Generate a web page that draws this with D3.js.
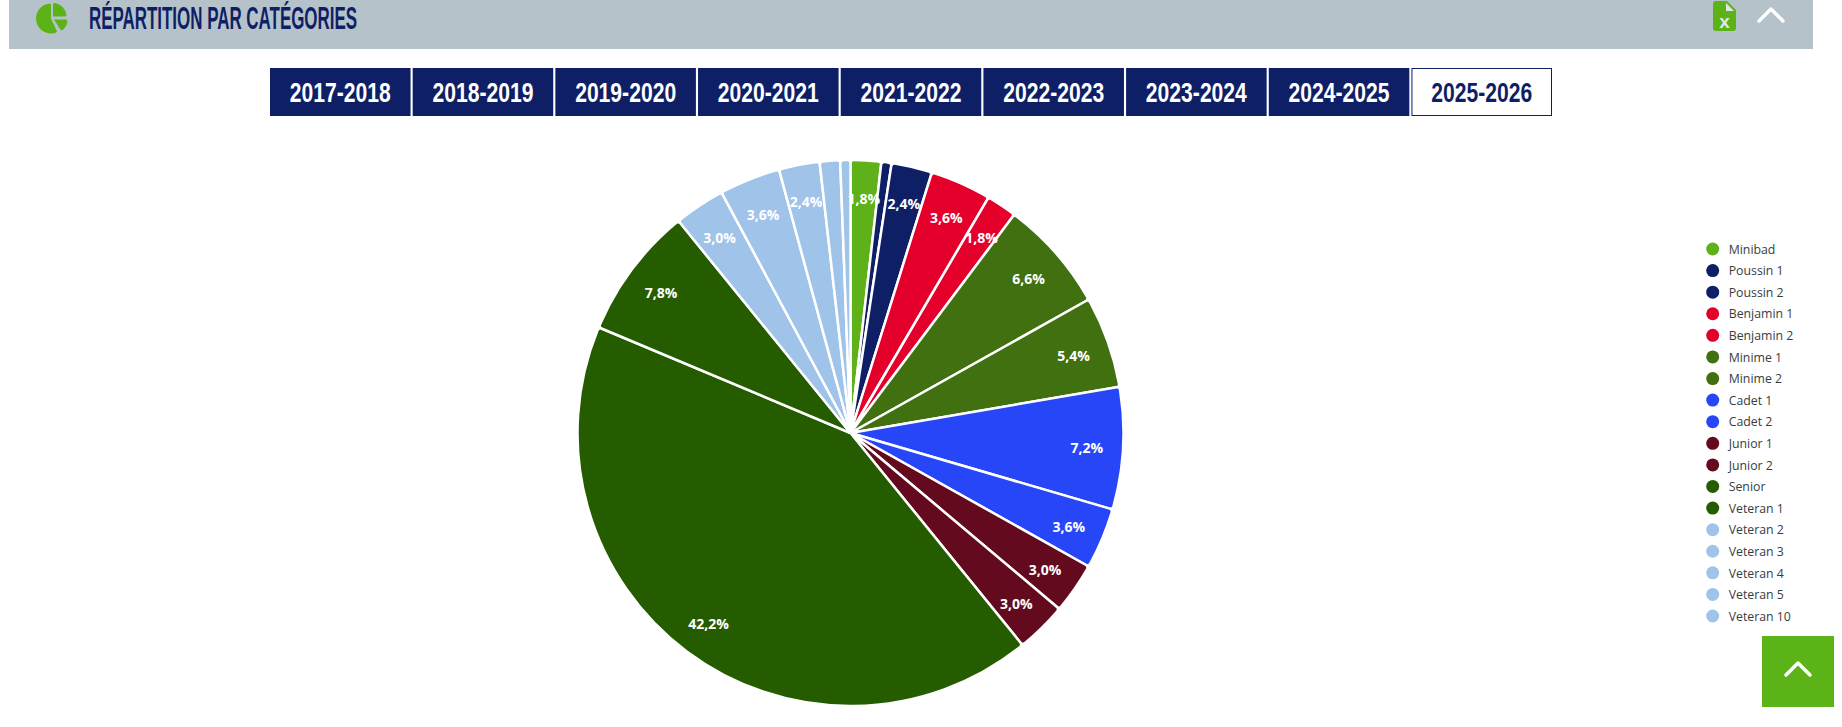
<!DOCTYPE html>
<html>
<head>
<meta charset="utf-8">
<script src="https://d3js.org/d3.v7.min.js"></script>
<style>
  html, body { margin: 0; padding: 0; background: #fff; overflow: hidden; }
  svg { display: block; }
  .cond { font-family: "Liberation Sans Narrow", "Liberation Sans", sans-serif; font-weight: 700; }
</style>
</head>
<body>
<svg id="vis"></svg>
<script>
  var title = 'RÉPARTITION PAR CATÉGORIES'
  var seasons = ['2017-2018', '2018-2019', '2019-2020', '2020-2021', '2021-2022', '2022-2023', '2023-2024', '2024-2025', '2025-2026']
  var activeSeason = '2025-2026'
  var categories = ['Minibad', 'Poussin 1', 'Poussin 2', 'Benjamin 1', 'Benjamin 2', 'Minime 1', 'Minime 2', 'Cadet 1', 'Cadet 2', 'Junior 1', 'Junior 2', 'Senior', 'Veteran 1', 'Veteran 2', 'Veteran 3', 'Veteran 4', 'Veteran 5', 'Veteran 10']
  var counts = [3, 1, 4, 6, 3, 11, 9, 12, 6, 5, 5, 70, 13, 5, 6, 4, 2, 1]
  var colors = ['#5fb11a', '#0f1f66', '#0f1f66', '#e4002b', '#e4002b', '#407010', '#407010', '#2746f8', '#2746f8', '#640a1f', '#640a1f', '#265c00', '#265c00', '#9fc3e9', '#9fc3e9', '#9fc3e9', '#9fc3e9', '#9fc3e9']

  var width = 1842
  var height = 727
  var navy = '#0f1f66'
  var green = '#5bb318'

  var svg = d3.select('#vis')
    .attr('width', width)
    .attr('height', height)

  // Header band
  svg.append('rect')
    .attr('x', 9).attr('y', 0)
    .attr('width', 1804).attr('height', 49)
    .attr('fill', '#b6c2c9')

  svg.append('text')
    .attr('class', 'cond')
    .attr('x', 89).attr('y', 28.5)
    .attr('font-size', 32)
    .attr('textLength', 268)
    .attr('lengthAdjust', 'spacingAndGlyphs')
    .attr('fill', navy)
    .text(title)

  // Pie icon
  var icon = svg.append('g').attr('transform', 'translate(51,18.5)')
  var iconArc = d3.arc().cornerRadius(1.5)
  icon.append('path')
    .attr('d', iconArc({innerRadius: 0, outerRadius: 15, startAngle: Math.PI * 0.86, endAngle: Math.PI * 2}))
    .attr('fill', green)
  icon.append('path')
    .attr('transform', 'translate(2,-2)')
    .attr('d', iconArc({innerRadius: 0, outerRadius: 13.5, startAngle: 0, endAngle: Math.PI * 0.5}))
    .attr('fill', green)
  icon.append('path')
    .attr('transform', 'translate(3,1)')
    .attr('d', iconArc({innerRadius: 0, outerRadius: 13.5, startAngle: Math.PI * 0.5, endAngle: Math.PI * 0.82}))
    .attr('fill', green)

  // Excel file icon
  var fileIcon = svg.append('g').attr('transform', 'translate(1713,1)')
  fileIcon.append('path')
    .attr('d', 'M3,0 H14 L23,9 V27 Q23,30 20,30 H3 Q0,30 0,27 V3 Q0,0 3,0 Z')
    .attr('fill', green)
  fileIcon.append('path')
    .attr('d', 'M13,2 L21,10 H13 Z')
    .attr('fill', '#dfe6ea')
  fileIcon.append('text')
    .attr('class', 'cond')
    .attr('x', 11.5).attr('y', 26.5)
    .attr('text-anchor', 'middle')
    .attr('font-size', 19)
    .attr('fill', '#dfe6ea')
    .text('x')

  function chevron(g, cx, cy) {
    g.append('path')
      .attr('d', 'M' + (cx - 12) + ',' + (cy + 6) + ' L' + cx + ',' + (cy - 6) + ' L' + (cx + 12) + ',' + (cy + 6))
      .attr('fill', 'none')
      .attr('stroke', '#fff')
      .attr('stroke-width', 3.5)
      .attr('stroke-linecap', 'round')
      .attr('stroke-linejoin', 'round')
  }
  chevron(svg, 1771, 15)

  // Season tabs
  var x_tabs = d3.scaleBand()
    .domain(seasons)
    .range([270, 1552])
    .paddingInner(0.015)

  var tabs = svg.selectAll('g.tab')
    .data(seasons)
    .enter().append('g')
      .attr('class', 'tab')
      .attr('transform', function (d) { return 'translate(' + x_tabs(d) + ',68)' })

  tabs.append('rect')
    .attr('x', function (d) { return d === activeSeason ? 0.5 : 0 })
    .attr('y', function (d) { return d === activeSeason ? 0.5 : 0 })
    .attr('width', function (d) { return x_tabs.bandwidth() - (d === activeSeason ? 1 : 0) })
    .attr('height', function (d) { return d === activeSeason ? 47 : 48 })
    .attr('fill', function (d) { return d === activeSeason ? '#fff' : navy })
    .attr('stroke', function (d) { return d === activeSeason ? navy : 'none' })

  tabs.append('text')
    .attr('class', 'cond')
    .attr('x', x_tabs.bandwidth() / 2)
    .attr('y', 33.5)
    .attr('text-anchor', 'middle')
    .attr('font-size', 28)
    .attr('textLength', 101)
    .attr('lengthAdjust', 'spacingAndGlyphs')
    .attr('fill', function (d) { return d === activeSeason ? navy : '#fff' })
    .text(function (d) { return d })

  // Pie
  var cx = 850.5, cy = 433, radius = 273
  var total = d3.sum(counts)
  var pct = d3.formatLocale({decimal: ',', thousands: ' ', grouping: [3], currency: ['', '€']}).format('.1f')

  var pie = d3.pie().sort(null).value(function (d) { return d })
  var arcs = pie(counts)
  var arc = d3.arc().innerRadius(0).outerRadius(radius).cornerRadius(3)
  var labelArc = d3.arc().innerRadius(radius * 0.867).outerRadius(radius * 0.867)

  var chart = svg.append('g').attr('transform', 'translate(' + cx + ',' + cy + ')')

  chart.selectAll('path')
    .data(arcs)
    .enter().append('path')
      .attr('d', arc)
      .attr('fill', function (d, i) { return colors[i] })
      .attr('stroke', '#fff')
      .attr('stroke-width', 2.5)

  chart.selectAll('text')
    .data(arcs.filter(function (d) { return d.value / total >= 0.015 }))
    .enter().append('text')
      .attr('transform', function (d) {
        var c = labelArc.centroid(d)
        return 'translate(' + c[0] + ',' + (c[1] + 2) + ')'
      })
      .attr('dy', '0.35em')
      .attr('text-anchor', 'middle')
      .attr('font-family', '"Open Sans", sans-serif')
      .attr('font-weight', 700)
      .attr('font-size', 14)
      .attr('fill', '#fff')
      .text(function (d) { return pct(d.value / total * 100) + '%' })

  // Legend
  var y_legend = d3.scalePoint()
    .domain(categories)
    .range([249, 616])

  var legend = svg.selectAll('g.legend')
    .data(categories)
    .enter().append('g')
      .attr('class', 'legend')
      .attr('transform', function (d) { return 'translate(1712.7,' + y_legend(d) + ')' })

  legend.append('circle')
    .attr('r', 6.5)
    .attr('fill', function (d, i) { return colors[i] })

  legend.append('text')
    .attr('x', 16)
    .attr('dy', '0.38em')
    .attr('font-family', '"Open Sans", sans-serif')
    .attr('font-size', 12.3)
    .attr('fill', '#373d3f')
    .text(function (d) { return d })

  // Back to top button
  svg.append('rect')
    .attr('x', 1762).attr('y', 636)
    .attr('width', 72).attr('height', 71)
    .attr('fill', green)
  chevron(svg, 1798, 669)
</script>
</body>
</html>
